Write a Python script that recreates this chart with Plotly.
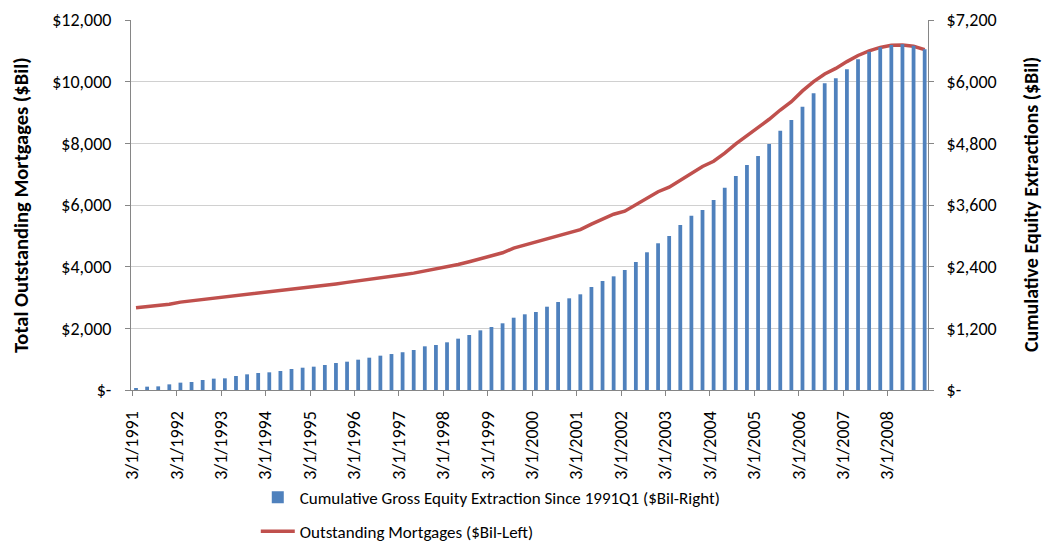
import plotly.graph_objects as go

# Quarterly data, 1991Q1 .. 2008Q4 (72 quarters)
years = list(range(1991, 2009))
quarters = [f"{y}Q{q}" for y in years for q in range(1, 5)]

# Cumulative gross equity extraction since 1991Q1 ($Bil, right axis)
equity_extraction = [
    20, 65, 71, 110, 143, 156, 195, 221, 227, 272, 305, 331,
    344, 370, 409, 434, 454, 487, 525, 551, 590, 629, 668, 700,
    735, 778, 850, 876, 928, 999, 1070, 1161, 1226, 1298, 1407, 1473,
    1518, 1621, 1712, 1784, 1862, 2004, 2121, 2212, 2335, 2491, 2680, 2855,
    2997, 3211, 3392, 3503, 3697, 3937, 4164, 4378, 4553, 4787, 5046, 5254,
    5513, 5773, 5968, 6066, 6241, 6436, 6584, 6669, 6714, 6727, 6700, 6630,
]

# Total outstanding mortgages ($Bil, left axis)
outstanding_mortgages = [
    2665, 2700, 2740, 2780, 2850, 2890, 2930, 2980, 3020, 3060, 3100, 3140,
    3180, 3220, 3260, 3300, 3340, 3390, 3440, 3490, 3535, 3590, 3640, 3690,
    3735, 3790, 3860, 3930, 3990, 4070, 4160, 4250, 4340, 4450, 4600, 4700,
    4790, 4900, 5000, 5100, 5200, 5380, 5550, 5700, 5800, 6000, 6200, 6430,
    6580, 6800, 7050, 7250, 7420, 7680, 7980, 8250, 8500, 8780, 9080, 9350,
    9700, 10000, 10250, 10430, 10650, 10850, 11000, 11110, 11180, 11190, 11150, 11040,
]

x_labels = [f"3/1/{y}" for y in years]
left_ticks = [0, 2000, 4000, 6000, 8000, 10000, 12000]
left_tick_text = ["$-", "$2,000", "$4,000", "$6,000", "$8,000", "$10,000", "$12,000"]
right_ticks = [0, 1200, 2400, 3600, 4800, 6000, 7200]
right_tick_text = ["$-", "$1,200", "$2,400", "$3,600", "$4,800", "$6,000", "$7,200"]
left_title = "Total Outstanding Mortgages ($Bil)"
right_title = "Cumulative Equity Extractions ($Bil)"

idx = list(range(len(quarters)))
tick_pos = [4 * k - 1 / 3 for k in range(len(years))]

FONT = "Carlito, Calibri, Lato, sans-serif"
AXIS_GRAY = "#868686"

fig = go.Figure()
fig.add_trace(go.Bar(
    x=idx, y=equity_extraction, yaxis="y2", width=0.34,
    marker=dict(color="#4F81BD", line=dict(width=0)),
    name="Cumulative Gross Equity Extraction Since 1991Q1 ($Bil-Right)",
    legendgroup="a",
))
fig.add_trace(go.Scatter(
    x=idx, y=outstanding_mortgages, mode="lines", yaxis="y",
    line=dict(color="#C0504D", width=3.5),
    name="Outstanding Mortgages ($Bil-Left)",
    legendgroup="b",
))

fig.update_layout(
    width=1044, height=542,
    margin=dict(l=131, r=116, t=20, b=152, autoexpand=False),
    paper_bgcolor="white", plot_bgcolor="white",
    font=dict(family=FONT, size=18, color="#000000"),
    showlegend=True,
    legend=dict(orientation="v", xref="container", yref="container",
                x=0.245, xanchor="left", y=0.115, yanchor="top",
                tracegroupgap=9, font=dict(size=17), itemwidth=34),
    xaxis=dict(
        range=[-0.45, 71.3], tickmode="array", tickvals=tick_pos, ticktext=x_labels,
        tickangle=-90, ticks="outside", ticklen=5, tickcolor=AXIS_GRAY,
        showline=True, linecolor=AXIS_GRAY, linewidth=1, showgrid=False,
        zeroline=False, tickfont=dict(size=18), ticklabelstandoff=8,
    ),
    yaxis=dict(
        range=[0, 12000], tickmode="array", tickvals=left_ticks, ticktext=left_tick_text,
        ticks="outside", ticklen=5, tickcolor=AXIS_GRAY,
        showline=True, linecolor=AXIS_GRAY, linewidth=1,
        showgrid=True, gridcolor="#D0D0D0", gridwidth=1, zeroline=False,
        tickfont=dict(size=18), ticklabelstandoff=10,
    ),
    yaxis2=dict(
        range=[0, 7200], overlaying="y", side="right", tickmode="array",
        tickvals=right_ticks, ticktext=right_tick_text,
        ticks="outside", ticklen=5, tickcolor=AXIS_GRAY,
        showline=True, linecolor=AXIS_GRAY, linewidth=1, showgrid=False, zeroline=False,
        tickfont=dict(size=18), ticklabelstandoff=9,
    ),
    annotations=[
        dict(text=f"<b>{left_title}</b>", xref="paper", yref="paper",
             x=-0.1380, y=0.5, xanchor="center", yanchor="middle",
             textangle=-90, showarrow=False, font=dict(size=20.5)),
        dict(text=f"<b>{right_title}</b>", xref="paper", yref="paper",
             x=1.1293, y=0.5, xanchor="center", yanchor="middle",
             textangle=-90, showarrow=False, font=dict(size=20)),
    ],
)

fig.write_html("out.html", config={"displayModeBar": False},
               post_script="document.body.style.margin='0px';document.body.style.overflow='hidden';")
